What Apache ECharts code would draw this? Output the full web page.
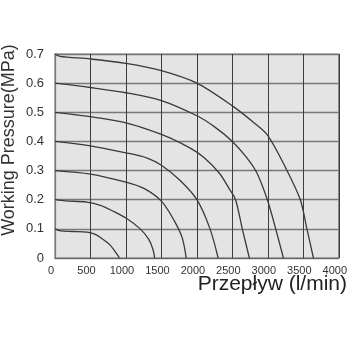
<!DOCTYPE html>
<html>
<head>
<meta charset="utf-8">
<script src="https://cdn.jsdelivr.net/npm/echarts@6/dist/echarts.min.js"></script>
<style>html,body{margin:0;padding:0;background:#fff;}#c{width:350px;height:350px;}</style>
</head>
<body>
<div id="c"></div>
<script>
var xTicks = [0, 500, 1000, 1500, 2000, 2500, 3000, 3500, 4000];
var yTicks = [0, 0.1, 0.2, 0.3, 0.4, 0.5, 0.6, 0.7];

var flow01 = [0, 80, 250, 450, 560, 660, 775, 865, 910];
var press01 = [0.1, 0.093, 0.091, 0.089, 0.082, 0.067, 0.045, 0.016, 0];

var flow02 = [0, 150, 450, 650, 800, 1000, 1200, 1320, 1380, 1405];
var press02 = [0.2, 0.196, 0.192, 0.18, 0.163, 0.137, 0.1, 0.065, 0.03, 0];

var flow03 = [0, 500, 1000, 1259, 1500, 1676, 1792, 1850];
var press03 = [0.3, 0.288, 0.26, 0.238, 0.195, 0.13, 0.07, 0];

var flow04 = [0, 500, 1000, 1300, 1500, 1768, 2000, 2185, 2300];
var press04 = [0.4, 0.385, 0.361, 0.343, 0.318, 0.265, 0.2, 0.1, 0];

var flow05 = [0, 500, 1000, 1500, 1900, 2100, 2320, 2450, 2545, 2640, 2740];
var press05 = [0.5, 0.485, 0.464, 0.424, 0.378, 0.345, 0.29, 0.24, 0.2, 0.1, 0];

var flow06 = [0, 500, 1000, 1500, 2000, 2250, 2500, 2700, 2850, 3000, 3111, 3220];
var press06 = [0.6, 0.585, 0.567, 0.54, 0.488, 0.45, 0.4, 0.345, 0.29, 0.195, 0.1, 0];

var flow07 = [0, 70, 500, 1000, 1500, 2000, 2500, 2800, 3000, 3250, 3458, 3551, 3643];
var press07 = [0.7, 0.692, 0.683, 0.668, 0.643, 0.6, 0.522, 0.465, 0.42, 0.31, 0.2, 0.1, 0];

var curves = [
  [flow01, press01], [flow02, press02], [flow03, press03], [flow04, press04],
  [flow05, press05], [flow06, press06], [flow07, press07]
];

function pairs(xs, ys) {
  var out = [];
  for (var i = 0; i < xs.length; i++) out.push([xs[i], ys[i]]);
  return out;
}

var chart = echarts.init(document.getElementById('c'), null, {renderer: 'canvas'});
var series = curves.map(function (c) {
  return {
    type: 'line',
    data: pairs(c[0], c[1]),
    showSymbol: false,
    smooth: 0.3,
    lineStyle: {color: '#3a3a3a', width: 1.3},
    silent: true
  };
});

chart.setOption({
  animation: false,
  backgroundColor: '#ffffff',
  grid: {
    left: 55, right: 7, top: 54, bottom: 92,
    show: true, backgroundColor: '#e4e4e4', borderColor: '#7a7a7a', borderWidth: 1.2
  },
  xAxis: {
    type: 'value',
    min: xTicks[0], max: xTicks[xTicks.length - 1], interval: 500,
    axisLine: {show: true, lineStyle: {color: '#666', width: 1.2}},
    axisTick: {show: false},
    splitLine: {show: true, lineStyle: {color: '#3c3c3c', width: 1}},
    axisLabel: {
      margin: 7, color: '#333', fontSize: 11,
      fontFamily: '"Liberation Sans Narrow", "Arial Narrow", "Liberation Sans", sans-serif',
      padding: [0, 8, 0, 0],
      formatter: function (v) { return String(v); }
    }
  },
  yAxis: {
    type: 'value',
    min: yTicks[0], max: yTicks[yTicks.length - 1], interval: 0.1,
    axisLine: {show: true, lineStyle: {color: '#7a7a7a', width: 1.2}},
    axisTick: {show: false},
    splitLine: {show: true, lineStyle: {color: '#7a7a7a', width: 1.3}},
    axisLabel: {
      margin: 11, color: '#333', fontSize: 13,
      fontFamily: '"Liberation Sans", Arial, sans-serif',
      formatter: function (v) { return String(Math.round(v * 10) / 10); }
    }
  },
  graphic: [
    {
      type: 'text',
      x: 9, y: 140, rotation: Math.PI / 2,
      style: {
        text: 'Working Pressure(MPa)', fill: '#333',
        font: '18px "Liberation Sans", Arial, sans-serif',
        align: 'center', verticalAlign: 'middle'
      }
    },
    {
      type: 'text',
      x: 347, y: 284,
      style: {
        text: 'Przepływ (l/min)', fill: '#222',
        font: '21px "Liberation Sans", Arial, sans-serif',
        align: 'right', verticalAlign: 'middle'
      }
    }
  ],
  series: series
});
</script>
</body>
</html>
